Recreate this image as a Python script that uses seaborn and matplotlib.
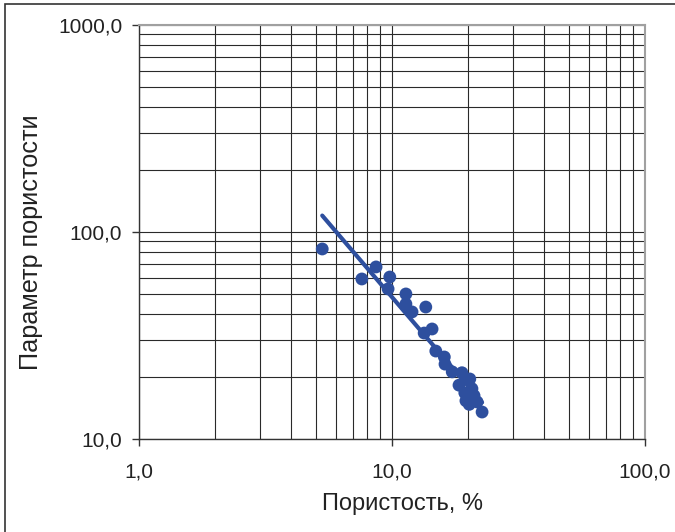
import numpy as np
import pandas as pd
import matplotlib.pyplot as plt
import matplotlib as mpl
import seaborn as sns
from matplotlib.ticker import FixedLocator, FixedFormatter, NullFormatter, LogLocator

# porosity, % and porosity parameter
porosity = [5.3, 7.6, 8.65, 9.8, 9.65, 11.35, 11.35, 12.0, 13.6, 14.4, 13.4, 14.9,
            16.1, 16.2, 17.3, 18.9, 18.4, 20.7, 19.4, 19.6, 21.7, 22.7, 20.3, 21.1, 20.2]
param = [82.8, 59.3, 67.8, 60.6, 53.1, 50.2, 44.9, 41.1, 43.4, 34.0, 32.5, 26.6,
         24.9, 23.0, 21.1, 20.9, 18.2, 17.5, 16.7, 15.3, 15.1, 13.5, 19.5, 16.2, 14.7]

x_ticks = [1, 10, 100]
x_labels = ['1,0', '10,0', '100,0']
y_ticks = [10, 100, 1000]
y_labels = ['10,0', '100,0', '1000,0']

df = pd.DataFrame({'x': porosity, 'y': param})

# power trendline like excel
b, a = np.polyfit(np.log10(df['x']), np.log10(df['y']), 1)
xs = np.array([df['x'].min(), df['x'].max()])
trend = pd.DataFrame({'x': xs, 'y': 10 ** a * xs ** b})

sns.set_style('white')
plt.rcParams['font.family'] = ['Liberation Sans', 'DejaVu Sans']
txt = '#222222'

fig = plt.figure(figsize=(6.75, 5.32), dpi=100)
ax = fig.add_axes([139 / 675, 1 - 439 / 532, 506 / 675, 414 / 532])

dot = '#2e4f9e'
sns.lineplot(data=trend, x='x', y='y', ax=ax, color=dot, lw=3, zorder=3)
sns.scatterplot(data=df, x='x', y='y', ax=ax, color=dot, s=85, edgecolor='none', zorder=4)

ax.set_xscale('log')
ax.set_yscale('log')
ax.set_xlim(1, 100)
ax.set_ylim(10, 1000)

ax.xaxis.set_major_locator(FixedLocator(x_ticks))
ax.xaxis.set_major_formatter(FixedFormatter(x_labels))
ax.yaxis.set_major_locator(FixedLocator(y_ticks))
ax.yaxis.set_major_formatter(FixedFormatter(y_labels))
ax.xaxis.set_minor_locator(LogLocator(base=10, subs=np.arange(2, 10)))
ax.yaxis.set_minor_locator(LogLocator(base=10, subs=np.arange(2, 10)))
ax.xaxis.set_minor_formatter(NullFormatter())
ax.yaxis.set_minor_formatter(NullFormatter())

ax.grid(True, which='both', axis='both', color='#2a2a2a', lw=0.8)
ax.tick_params(which='major', direction='out', length=5, width=1, color='#333333',
               labelsize=15, labelcolor=txt, bottom=True, left=True)
ax.tick_params(which='minor', length=0)
ax.tick_params(axis='x', pad=12)
ax.tick_params(axis='y', pad=7)

for s in ['left', 'bottom']:
    ax.spines[s].set_color('#333333')
    ax.spines[s].set_linewidth(1)
for s in ['top', 'right']:
    ax.spines[s].set_color('#a0a0a0')
    ax.spines[s].set_linewidth(1.5)

ax.set_xlabel('Пористость, %', fontsize=17, color=txt)
ax.set_ylabel('Параметр пористости', fontsize=18.2, color=txt)
ax.xaxis.set_label_coords(0.521, -0.131)
ax.yaxis.set_label_coords(-0.19, 0.475)

# outer frame of the figure
fig.patches.append(mpl.patches.Rectangle((5 / 675, -0.1), 1.2, 1 - 4 / 532 + 0.1,
                                         transform=fig.transFigure, fill=False,
                                         edgecolor='#333333', lw=1.2))

fig.savefig('out.png', dpi=100)
